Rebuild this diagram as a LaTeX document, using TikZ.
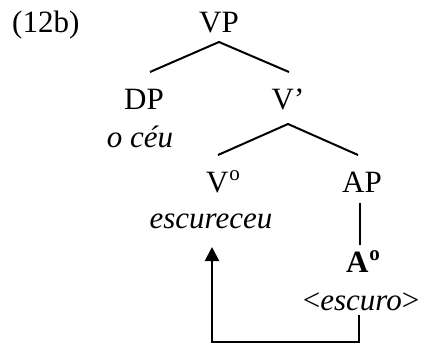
\documentclass[tikz,border=0pt]{standalone}
\usepackage{fontspec}
\setmainfont{Liberation Serif}
\usetikzlibrary{arrows.meta}
\newcommand{\supo}{\raisebox{11.5pt}{\fontsize{21}{21}\selectfont o}}
\begin{document}
\begin{tikzpicture}[x=1pt,y=-1pt,
  lab/.style={inner sep=0pt,anchor=base,font=\fontsize{31}{37}\selectfont},
  branch/.style={line width=2pt},
  move/.style={line width=2pt,-{Triangle[width=14pt,length=14pt]}}]
\useasboundingbox (0,0) rectangle (423,345);
\node[lab,anchor=base west] (ex) at (12,33) {(12b)};
\node[lab] (vp) at (219,33) {VP};
\node[lab] (dp) at (144,110) {DP};
\node[lab] (vbar) at (288,110) {V’};
\node[lab] (dpw) at (140,147) {\itshape o céu};
\node[lab] (v0) at (223,192) {V\kern1pt\supo};
\node[lab] (vw) at (211,228) {\itshape escureceu};
\node[lab] (ap) at (362,192) {AP};
\node[lab] (a0) at (363,272) {\bfseries A\kern1pt\supo};
\node[lab] (aw) at (361,310) {<\textit{escuro}>};
% branch points
\coordinate (vpb) at (219,42);
\coordinate (dpt) at (150,72);
\coordinate (vbart) at (289,72);
\coordinate (vbarb) at (288,124);
\coordinate (v0t) at (218,155);
\coordinate (apt) at (358,155);
\coordinate (apb) at (360,203);
\coordinate (a0t) at (360,245);
\coordinate (mvs) at (359,315);
\coordinate (mvr) at (359,342);
\coordinate (mvl) at (212,342);
\coordinate (mve) at (212,247);
\draw[branch] (dpt) -- (vpb) -- (vbart);
\draw[branch] (v0t) -- (vbarb) -- (apt);
\draw[branch] (apb) -- (a0t);
\draw[move] (mvs) -- (mvr) -- (mvl) -- (mve);
\end{tikzpicture}
\end{document}
